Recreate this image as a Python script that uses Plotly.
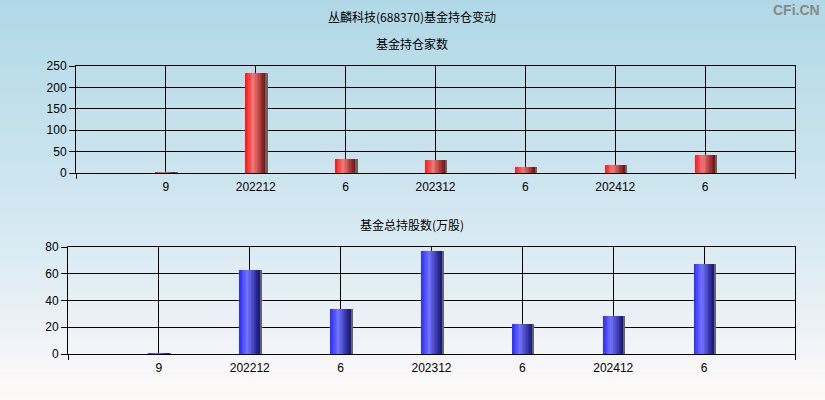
import plotly.graph_objects as go

# ---- data ----
categories = ["9", "202212", "6", "202312", "6", "202412", "6"]
fund_count = [2, 234, 33, 30, 14, 19, 42]
fund_shares = [0.6, 63, 34, 77, 22.5, 28.5, 67.5]

positions = list(range(1, len(categories) + 1))

W, H = 825, 400
fig = go.Figure()

def lerp(c1, c2, t):
    return tuple(int(round(a + (b - a) * t)) for a, b in zip(c1, c2))

def grad_color(stops, t):
    for i in range(len(stops) - 1):
        p0, c0 = stops[i]
        p1, c1 = stops[i + 1]
        if p0 <= t <= p1:
            return lerp(c0, c1, (t - p0) / (p1 - p0) if p1 > p0 else 0)
    return stops[-1][1]

red_stops = [(0.0, (255, 20, 20)), (0.4, (240, 120, 120)), (1.0, (120, 14, 14))]
blue_stops = [(0.0, (40, 40, 255)), (0.4, (115, 115, 255)), (1.0, (20, 20, 120))]

bar_w = 0.222
n_slices = 14
shadow_w = 0.022

def add_bars(vals, stops, xa, ya):
    for i in range(n_slices):
        t = (i + 0.5) / n_slices
        c = grad_color(stops, t)
        fig.add_trace(go.Bar(
            x=positions, y=vals, width=bar_w / n_slices,
            offset=-bar_w / 2 + i * bar_w / n_slices,
            marker=dict(color="rgb(%d,%d,%d)" % c, line=dict(width=0)),
            xaxis=xa, yaxis=ya, showlegend=False, hoverinfo="skip"))
    fig.add_trace(go.Bar(
        x=positions, y=vals, width=shadow_w, offset=bar_w / 2,
        marker=dict(color="rgb(100,100,100)", line=dict(width=0)),
        xaxis=xa, yaxis=ya, showlegend=False, hoverinfo="skip"))

add_bars(fund_count, red_stops, "x", "y")
add_bars(fund_shares, blue_stops, "x2", "y2")

# background gradient bands
bg_stops = [(0.0, (176, 216, 230)), (0.5, (208, 230, 240)), (0.82, (236, 242, 246)), (1.0, (255, 250, 250))]
shapes = []
nb = 80
for i in range(nb):
    t = (i + 0.5) / nb
    c = grad_color(bg_stops, t)
    shapes.append(dict(type="rect", xref="paper", yref="paper",
                       x0=0, x1=1, y0=1 - (i + 1) / nb, y1=min(1, 1 - i / nb + 0.002),
                       fillcolor="rgb(%d,%d,%d)" % c, line=dict(width=0), layer="below"))

tick_font = dict(family="Liberation Sans, Arial, sans-serif", size=12, color="#000")
xcommon = dict(range=[0, 8], tickmode="array", tickvals=positions, ticktext=categories,
               showgrid=True, gridcolor="#000", gridwidth=1, showline=True, linecolor="#000",
               linewidth=1, mirror=True, ticks="", zeroline=False, tickfont=tick_font,
               automargin=False, ticklabelstandoff=3,
               minor=dict(tickvals=[0, 8], ticks="outside", ticklen=5, tickcolor="#000", showgrid=False))
ycommon = dict(showgrid=True, gridcolor="#000", gridwidth=1, showline=True, linecolor="#000",
               linewidth=1, mirror=True, ticks="outside", ticklen=6, tickcolor="#000",
               zeroline=False, tickfont=tick_font, automargin=False)

title_font = dict(family="Noto Sans CJK SC", size=12, color="#000")
fig.update_layout(
    width=W, height=H, margin=dict(l=0, r=0, t=0, b=0, pad=0, autoexpand=False),
    paper_bgcolor="rgb(240,245,248)", plot_bgcolor="rgba(0,0,0,0)",
    barmode="overlay", bargap=0, shapes=shapes,
    xaxis=dict(domain=[76 / W, 795 / W], anchor="y", **xcommon),
    yaxis=dict(domain=[1 - 173 / H, 1 - 66 / H], anchor="x", range=[0, 250],
               tickvals=[0, 50, 100, 150, 200, 250], **ycommon),
    xaxis2=dict(domain=[68 / W, 795 / W], anchor="y2", **xcommon),
    yaxis2=dict(domain=[1 - 354 / H, 1 - 247 / H], anchor="x2", range=[0, 80],
                tickvals=[0, 20, 40, 60, 80], **ycommon),
    annotations=[
        dict(text="丛麟科技(688370)基金持仓变动", x=412 / W, y=1 - 17 / H, xref="paper", yref="paper",
             yanchor="middle", showarrow=False, font=title_font),
        dict(text="基金持仓家数", x=412 / W, y=1 - 43 / H, xref="paper", yref="paper",
             yanchor="middle", showarrow=False, font=title_font),
        dict(text="基金总持股数(万股)", x=412 / W, y=1 - 224 / H, xref="paper", yref="paper",
             yanchor="middle", showarrow=False, font=title_font),
        dict(text="<b>CFi.CN</b>", x=822 / W, y=1 - 10 / H, xref="paper", yref="paper",
             xanchor="right", yanchor="middle", showarrow=False,
             font=dict(family="Liberation Sans, Arial, sans-serif", size=14, color="#888")),
    ],
)

fig.write_html("out.html", config={"displayModeBar": False},
               post_script="document.body.style.margin='0';document.body.style.overflow='hidden';")
